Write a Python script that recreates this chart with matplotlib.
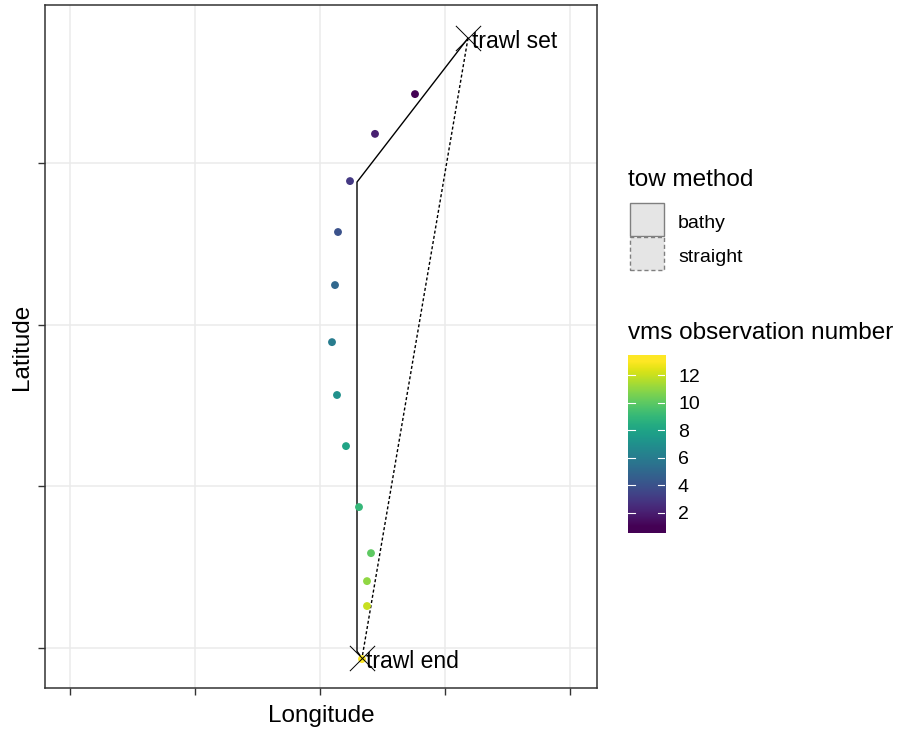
import numpy as np
import matplotlib
matplotlib.use("Agg")
from matplotlib import pyplot as plt
from matplotlib.colors import Normalize
from matplotlib.patches import Rectangle

plt.rcParams['font.family'] = ['Liberation Sans', 'DejaVu Sans']

# vms fixes along the tow (grid units, ticks are unlabelled)
obs_num = [1, 2, 3, 4, 5, 6, 7, 8, 9, 10, 11, 12, 13]
obs_lon = [2.76, 2.44, 2.24, 2.144, 2.12, 2.096, 2.136, 2.208, 2.312, 2.408, 2.376, 2.376, 2.336]
obs_lat = [3.426, 3.18, 2.888, 2.573, 2.245, 1.892, 1.565, 1.249, 0.872, 0.587, 0.414, 0.260, -0.068]

# trawl set / end positions
trawl_lon = [3.184, 2.336]
trawl_lat = [3.772, -0.062]
trawl_lab = ["trawl set", "trawl end"]

# tow paths
bathy_lon = [3.184, 2.296, 2.296, 2.336]
bathy_lat = [3.772, 2.882, -0.02, -0.062]
straight_lon = [3.184, 2.336]
straight_lat = [3.772, -0.062]

W, H = 901, 729
fig = plt.figure(figsize=(W / 100, H / 100), dpi=100)


def box(x0, y0, x1, y1):
    # pixel box (top-left origin) -> figure fraction rect
    return [x0 / W, 1 - y1 / H, (x1 - x0) / W, (y1 - y0) / H]


def fx(x):
    return x / W


def fy(y):
    return 1 - y / H


ax = fig.add_axes(box(45, 5, 597, 688))
norm = Normalize(1, 13)

ax.plot(bathy_lon, bathy_lat, color="black", lw=1.0, zorder=3)
ax.plot(straight_lon, straight_lat, color="black", lw=1.0,
        linestyle=(0, (2.2, 1.6)), zorder=3)
ax.scatter(obs_lon, obs_lat, c=obs_num, cmap="viridis", norm=norm, s=32,
           linewidths=0, zorder=4)
ax.scatter(trawl_lon, trawl_lat, marker="x", s=330, color="black",
           linewidths=0.7, zorder=5)
for lon, lat, lab in zip(trawl_lon, trawl_lat, trawl_lab):
    ax.text(lon + 0.03, lat - 0.02, lab, fontsize=16.5, ha="left", va="center",
            zorder=6)

ax.set_xlim(-0.2, 4.216)
ax.set_ylim(-0.247, 3.977)
ax.set_xticks([0, 1, 2, 3, 4])
ax.set_yticks([0, 1, 2, 3])
ax.set_xticklabels([])
ax.set_yticklabels([])
ax.grid(True, color="#EBEBEB", lw=1.1)
ax.set_axisbelow(True)
for s in ax.spines.values():
    s.set_color("#333333")
    s.set_linewidth(1.1)
ax.tick_params(length=5, width=1.0, color="#333333")
ax.set_xlabel("Longitude", fontsize=17.5, va="center")
ax.set_ylabel("Latitude", fontsize=17.5, va="center")
ax.xaxis.set_label_coords(0.5, -28 / 683)
ax.yaxis.set_label_coords(-23 / 552, 0.5)

# tow method legend
fig.text(fx(628), fy(180), "tow method", fontsize=17.5, va="center", ha="left")
keys = [("bathy", "solid", 203), ("straight", (0, (3, 2)), 237)]
for lab, ls, top in keys:
    fig.add_artist(Rectangle((fx(630), fy(top + 33)), 34 / W, 33 / H,
                             transform=fig.transFigure, facecolor="#E5E5E5",
                             edgecolor="#7F7F7F", lw=1.0, linestyle=ls))
    fig.text(fx(678), fy(top + 20), lab, fontsize=14, va="center", ha="left")

# vms observation number colourbar
fig.text(fx(628), fy(333), "vms observation number", fontsize=17.5,
         va="center", ha="left")
cax = fig.add_axes(box(628, 355, 665, 533))
lo, hi = 0.55, 13.45
grad = np.linspace(lo, hi, 300)[:, None]
cax.imshow(grad, aspect="auto", origin="lower", extent=[0, 1, lo, hi],
           cmap="viridis", norm=norm)
cax.set_xlim(0, 1)
cax.set_ylim(lo, hi)
cax.set_xticks([])
cax.set_yticks([])
for s in cax.spines.values():
    s.set_visible(False)
for v in [2, 4, 6, 8, 10, 12]:
    cax.plot([0, 0.2], [v, v], color="white", lw=0.8)
    cax.plot([0.8, 1], [v, v], color="white", lw=0.8)
    fig.text(fx(678), cax.transData.transform((0, v))[1] / H - 2 / H, str(v),
             fontsize=14, va="center", ha="left")

fig.savefig("out.png", dpi=100)
